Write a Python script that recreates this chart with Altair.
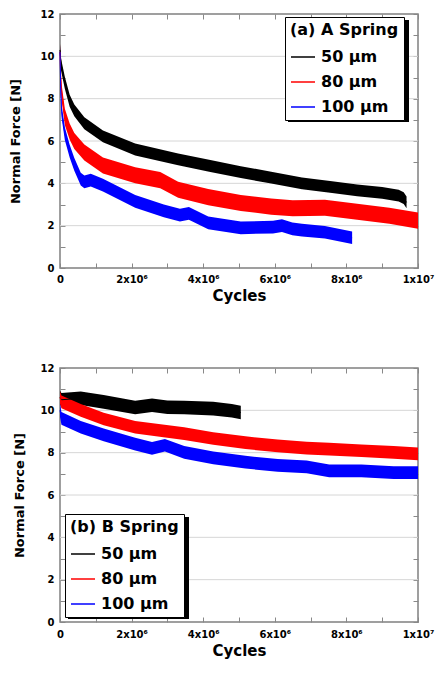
import altair as alt
import pandas as pd

SERIES = ["50 μm", "80 μm", "100 μm"]
COLORS = ["#000000", "#ff0000", "#0000ff"]

# ---- (a) A Spring : cycles in units of 10^6, normal force in N (centre of noisy trace)
A50_X = [0, 0.03, 0.135, 0.27, 0.4, 0.68, 1.2, 2.1, 3.3, 4.2, 5.05, 5.9, 6.76, 7.6, 8.3, 9.0, 9.46, 9.6, 9.68]
A50_Y = [10.3, 9.6, 8.75, 7.9, 7.45, 6.84, 6.22, 5.6, 5.13, 4.82, 4.53, 4.27, 4.0, 3.82, 3.67, 3.55, 3.42, 3.3, 3.1]
A80_X = [0, 0.02, 0.045, 0.135, 0.27, 0.4, 0.68, 1.2, 2.1, 2.8, 3.3, 4.14, 5.05, 5.9, 6.5, 7.4, 8.3, 9.2, 10.0]
A80_Y = [10.2, 9.0, 8.3, 7.14, 6.45, 6.0, 5.46, 4.84, 4.38, 4.15, 3.7, 3.35, 3.07, 2.9, 2.82, 2.85, 2.66, 2.47, 2.24]
A100_X = [0, 0.02, 0.045, 0.135, 0.27, 0.4, 0.58, 0.68, 0.86, 1.2, 2.1, 2.9, 3.35, 3.6, 4.14, 5.05, 5.95, 6.2, 6.49, 6.76, 7.4, 8.16]
A100_Y = [10.2, 8.5, 7.4, 6.35, 5.52, 4.9, 4.2, 4.07, 4.15, 3.92, 3.15, 2.7, 2.5, 2.58, 2.13, 1.9, 1.93, 2.0, 1.85, 1.79, 1.69, 1.43]
A_SPREAD = [0.28, 0.38, 0.3]  # half-width of the noisy band, N

# ---- (b) B Spring
B50_X = [0, 0.04, 0.58, 1.22, 2.1, 2.57, 3.0, 3.47, 4.28, 4.8, 5.05]
B50_Y = [10.6, 10.5, 10.57, 10.4, 10.13, 10.24, 10.15, 10.13, 10.08, 9.98, 9.9]
B80_X = [0, 0.04, 0.58, 1.22, 2.1, 3.47, 4.28, 5.18, 6.08, 6.89, 7.52, 8.42, 9.32, 10.0]
B80_Y = [10.6, 10.4, 10.0, 9.59, 9.2, 8.9, 8.67, 8.47, 8.32, 8.21, 8.17, 8.09, 8.01, 7.94]
B100_X = [0, 0.04, 0.58, 1.22, 2.1, 2.57, 2.93, 3.47, 4.28, 5.18, 6.08, 6.89, 7.52, 8.42, 9.32, 10.0]
B100_Y = [10.0, 9.62, 9.2, 8.84, 8.4, 8.2, 8.35, 8.01, 7.75, 7.55, 7.4, 7.33, 7.14, 7.14, 7.06, 7.06]
B_SPREAD = [0.32, 0.3, 0.3]

X_TICKS = [i * 1e6 for i in range(11)]
Y_TICKS = list(range(13))
GRID_Y = [2, 4, 6, 8, 10]

FONT = "DejaVu Sans"
W, H = 358, 254
LW, LH = 121, 102  # legend box size (for its drop shadow)


def build(xs_list, ys_list, spreads):
    rows = []
    for name, xs, ys, sp in zip(SERIES, xs_list, ys_list, spreads):
        for x, y in zip(xs, ys):
            rows.append({"series": name, "cycles": x * 1e6, "force": y,
                         "lo": y - sp, "hi": y + sp})
    return pd.DataFrame(rows)


dfA = build([A50_X, A80_X, A100_X], [A50_Y, A80_Y, A100_Y], A_SPREAD)
dfB = build([B50_X, B80_X, B100_X], [B50_Y, B80_Y, B100_Y], B_SPREAD)

X_LABEL = ("datum.value == 0 ? '0' : datum.value == 10000000 ? '1x10\u2077' : "
           "(datum.value % 2000000 == 0 ? format(datum.value / 1000000, 'd') + 'x10\u2076' : '')")
Y_LABEL = "datum.value % 2 == 0 ? format(datum.value, 'd') : ''"

TICK = dict(offset=-5, tickSize=5, domain=False, grid=False, tickColor="#888888",
            tickWidth=1, labelOverlap=False, labelFlush=False, labelBound=False,
            labelFont=FONT, labelFontSize=10, labelFontWeight="bold", labelColor="black",
            titleFont=FONT, titleFontWeight="bold", titleColor="black")


def panel(df, title, lx, ly, y_title_pad, x_label_pad, x_title_pad):
    xs = alt.Scale(domain=[0, 1e7], nice=False, zero=False)
    ys = alt.Scale(domain=[0, 12], nice=False)

    bottom = alt.Axis(orient="bottom", values=X_TICKS, labelExpr=X_LABEL, title="Cycles",
                      titleFontSize=15, labelPadding=x_label_pad, titlePadding=x_title_pad, **TICK)
    left = alt.Axis(orient="left", values=Y_TICKS, labelExpr=Y_LABEL, title="Normal Force [N]",
                    titleFontSize=13, labelPadding=6, titlePadding=y_title_pad, **TICK)
    top = alt.Axis(orient="top", values=X_TICKS, labels=False, title=None,
                   minExtent=0, maxExtent=0, **TICK)
    right = alt.Axis(orient="right", values=Y_TICKS, labels=False, title=None,
                     minExtent=0, maxExtent=0, **TICK)

    grid = alt.Chart(pd.DataFrame({"g": GRID_Y})).mark_rule(
        color="#d6d6d6", strokeWidth=1).encode(y=alt.Y("g:Q", scale=ys, axis=None))

    bands = []
    for i, (name, col) in enumerate(zip(SERIES, COLORS)):
        bands.append(
            alt.Chart(df).transform_filter(alt.datum.series == name).mark_area(
                color=col, opacity=1).encode(
                x=alt.X("cycles:Q", scale=xs, axis=bottom if i == 0 else None),
                y=alt.Y("hi:Q", scale=ys, axis=left if i == 0 else None),
                y2="lo:Q",
            )
        )

    line = alt.Chart(df).mark_line(strokeWidth=1).encode(
        x=alt.X("cycles:Q", scale=xs, axis=top),
        y=alt.Y("force:Q", scale=ys, axis=right),
        stroke=alt.Stroke(
            "series:N", scale=alt.Scale(domain=SERIES, range=COLORS), sort=SERIES,
            legend=alt.Legend(
                title=title, orient="none", legendX=lx, legendY=ly,
                fillColor="white", strokeColor="black", padding=5,
                titleFont=FONT, titleFontSize=16, titleFontWeight="bold",
                titleColor="black", titlePadding=6,
                labelFont=FONT, labelFontSize=16, labelFontWeight="bold",
                labelColor="black", labelOffset=5,
                symbolType="stroke", symbolStrokeWidth=1.5, symbolSize=576,
                rowPadding=4,
            ),
        ),
    )

    shadow = alt.Chart(alt.Data(values=[{}])).mark_rect(color="black").encode(
        x=alt.value(lx + 3), x2=alt.value(lx + LW + 3),
        y=alt.value(ly + 3), y2=alt.value(ly + LH + 3),
    )

    return alt.layer(grid, *bands, shadow, line).resolve_axis(
        x="independent", y="independent").properties(width=W, height=H)


top_panel = panel(dfA, "(a) A Spring", 225, 3, 18, 6, 4)
bottom_panel = panel(dfB, "(b) B Spring", 5, 146, 14, 7, 4)

chart = alt.concat(top_panel, bottom_panel, columns=1, align="none", spacing=58).resolve_scale(
    stroke="independent").resolve_legend(stroke="independent").properties(
    padding={"left": 0, "top": 0, "right": 0, "bottom": 0}
).configure_view(stroke="#808080", strokeWidth=1.5)

chart.save("out.html", embed_options={"renderer": "svg", "actions": False})
